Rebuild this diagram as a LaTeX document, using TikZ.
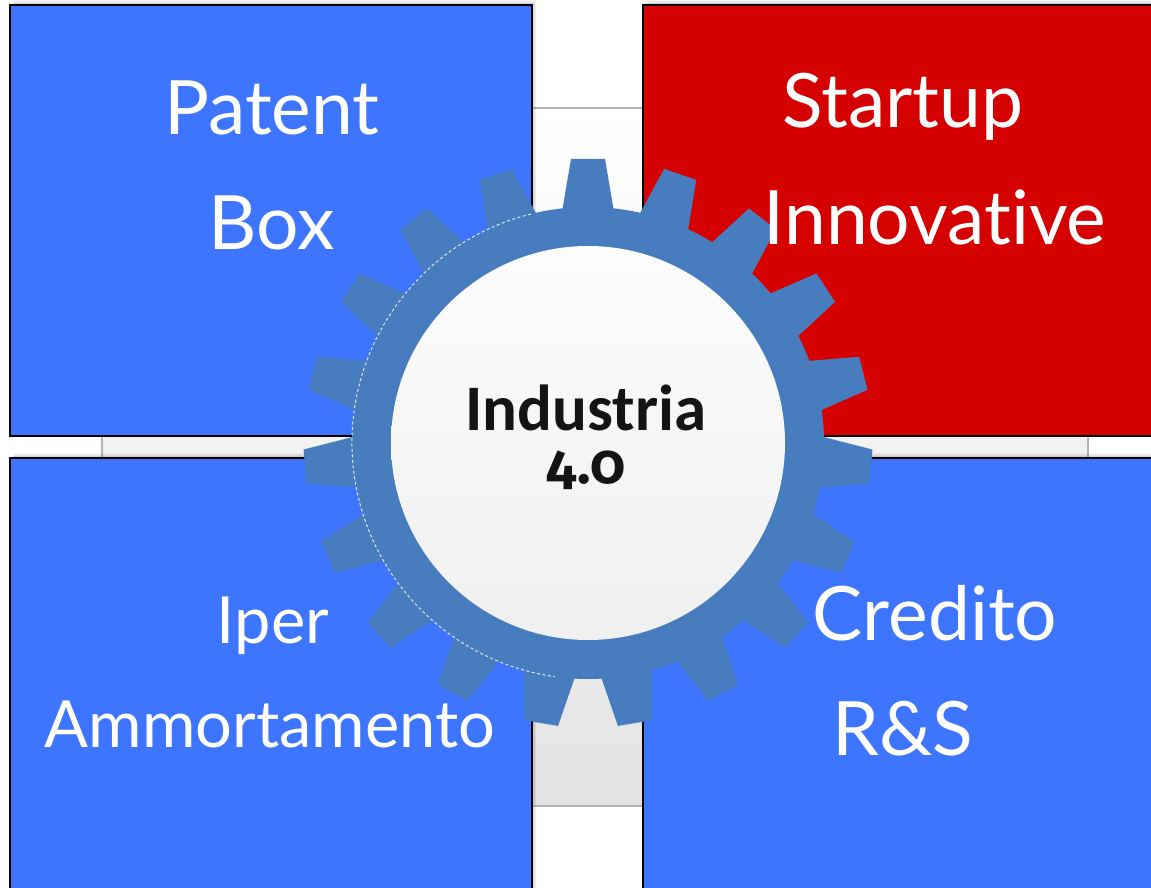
\documentclass[tikz,border=0pt]{standalone}
\usepackage{fontspec}
\setmainfont[Ligatures=NoCommon]{Lato}
\newfontfamily\gearfont{Carlito}
\newfontfamily\numfont[Numbers=OldStyle]{Fira Sans}
\definecolor{boxblue}{RGB}{61,117,254}
\definecolor{boxred}{RGB}{213,0,0}
\definecolor{gearblue}{RGB}{71,125,190}
\definecolor{frameline}{RGB}{180,180,180}
\begin{document}
\begin{tikzpicture}[x=1pt,y=1pt,
  panel/.style={draw=black, line width=2pt},
  lbl/.style={text=white, anchor=base, inner sep=0pt},
  big/.style={font=\fontsize{75}{75}\selectfont},
  small/.style={font=\fontsize{65}{65}\selectfont},
  tooth/.style={fill=gearblue},
  shadowlayer/.style={fill=black, opacity=0.035}]
\useasboundingbox (0,0) rectangle (1151,887);
\clip (0,0) rectangle (1151,887);
\fill[white] (0,0) rectangle (1151,887);
% background frame
\shade[top color=white, bottom color=white!89!black] (102,81) rectangle (1088,779);
\draw[frameline, line width=1.5pt] (102,81) rectangle (1088,779);
% soft shadows
\foreach \i in {1,...,6}{
  \begin{scope}[shift={(\i*0.7pt,\i*0.8pt)}]
    \fill[shadowlayer] (10,451) rectangle (532,882);
    \fill[shadowlayer] (643,451) rectangle (1160,882);
    \fill[shadowlayer] (10,-8) rectangle (532,429);
    \fill[shadowlayer] (643,-8) rectangle (1160,429);
  \end{scope}
}
% panels
\filldraw[panel, fill=boxblue] (10,451) rectangle (532,882);
\filldraw[panel, fill=boxred] (643,451) rectangle (1160,882);
\filldraw[panel, fill=boxblue] (10,-8) rectangle (532,429);
\filldraw[panel, fill=boxblue] (643,-8) rectangle (1160,429);
% gear
\coordinate (gc) at (588,444);
\fill[gearblue] (gc) circle[radius=236pt];
\foreach \k in {0,...,18}{
  \fill[tooth, shift={(588,444)}, rotate={90+\k*360/19}]
    (228,-26.5) -- (284,-17) -- (284,17) -- (228,26.5) -- cycle;
}
\draw[white, line width=1pt, dash pattern=on 3pt off 2.5pt, opacity=0.8]
  ([shift={(104:236pt)}]gc) arc[start angle=104, end angle=262, radius=236pt];
\shade[top color=white!99!black, bottom color=white!94!black] (gc) circle[radius=197pt];
% centre text
\node[anchor=base, inner sep=0pt, text=black!92, font=\gearfont\bfseries\fontsize{65}{65}\selectfont] (ind) at (586,456) {Industria};
\node[anchor=base, inner sep=0pt, text=black!92, font=\numfont\bfseries\fontsize{56}{56}\selectfont] (ver) at (586,403) {4.0};
% panel labels
\node[lbl, big] (patent) at (272,752) {Patent};
\node[lbl, big] (box) at (272,637) {Box};
\node[lbl, big] (startup) at (903,759) {Startup};
\node[lbl, big] (innov) at (935,642) {Innovative};
\node[lbl, small] (iper) at (273,244) {Iper};
\node[lbl, small] (ammort) at (270,140) {Ammortamento};
\node[lbl, big] (credito) at (935,247) {Credito};
\node[lbl, big] (rs) at (903,132) {R\&S};
\end{tikzpicture}
\end{document}
